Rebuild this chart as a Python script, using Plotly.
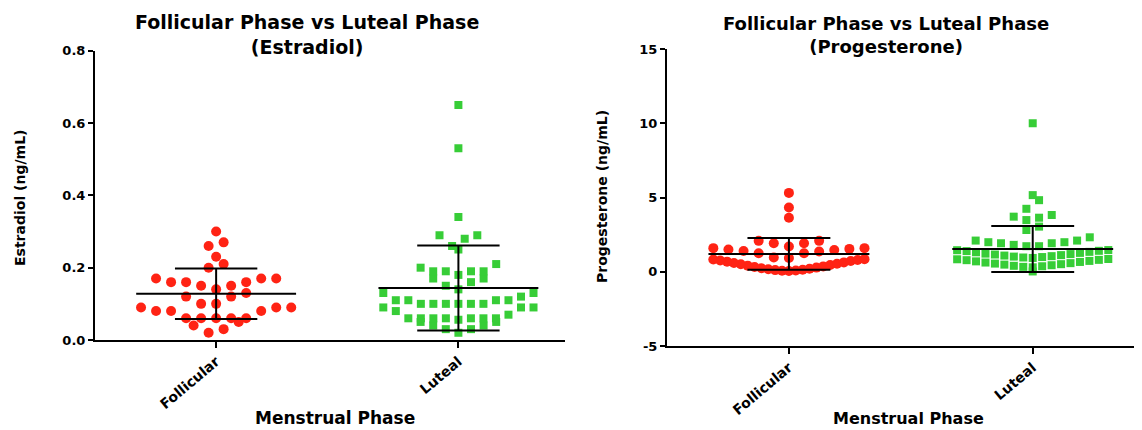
import numpy as np
import plotly.graph_objects as go

categories = ["Follicular", "Luteal"]

estradiol_follicular = [0.30, 0.27, 0.26, 0.23, 0.21, 0.20, 0.17, 0.17, 0.17, 0.16, 0.16, 0.16,
                        0.15, 0.15, 0.14, 0.13, 0.12, 0.12, 0.10, 0.10, 0.09, 0.09, 0.09, 0.08,
                        0.08, 0.08, 0.06, 0.06, 0.06, 0.06, 0.06, 0.05, 0.04, 0.03, 0.02]
estradiol_luteal = [0.65, 0.53, 0.34, 0.29, 0.29, 0.28, 0.26, 0.25, 0.21, 0.20, 0.19, 0.19, 0.19,
                    0.19, 0.18, 0.17, 0.17, 0.16, 0.15, 0.14, 0.13, 0.13, 0.12, 0.11, 0.11, 0.11,
                    0.11, 0.10, 0.10, 0.10, 0.10, 0.10, 0.10, 0.09, 0.09, 0.09, 0.08, 0.07, 0.06,
                    0.06, 0.06, 0.06, 0.06, 0.06, 0.06, 0.056, 0.05, 0.05, 0.04, 0.04, 0.03, 0.03, 0.02]
progesterone_follicular = [5.31, 4.33, 3.64, 2.08, 2.08, 1.92, 1.92, 1.70, 1.59, 1.59, 1.54, 1.50,
                           1.47, 1.40, 1.36, 1.25, 1.25, 0.96, 0.93,
                           0.85, 0.83, 0.79, 0.76, 0.72, 0.68, 0.63, 0.59, 0.54, 0.50, 0.45, 0.41,
                           0.36, 0.32, 0.28, 0.24, 0.20, 0.17, 0.13, 0.11, 0.08, 0.07, 0.05]
progesterone_luteal = [10.0, 5.16, 4.82, 4.24, 3.82, 3.71, 3.64, 3.48, 3.04, 2.81,
                       2.32, 2.10, 2.10, 1.99, 1.99, 1.92, 1.92, 1.81, 1.72, 1.72,
                       1.46, 1.45, 1.41, 1.39, 1.34, 1.31, 1.27, 1.22, 1.19, 1.16, 1.12, 1.09,
                       1.05, 1.02, 0.99, 0.96, 0.93,
                       0.86, 0.84, 0.80, 0.78, 0.73, 0.70, 0.66, 0.62, 0.58, 0.55, 0.51, 0.48,
                       0.44, 0.40, 0.37, 0.33, 0.30,
                       0.02]

# mean and SD
estradiol_mean = [0.128, 0.1435]
estradiol_sd = [0.070, 0.1175]
progesterone_mean = [1.20, 1.53]
progesterone_sd = [1.07, 1.55]

estradiol_ticks = [0.0, 0.2, 0.4, 0.6, 0.8]
progesterone_ticks = [-5, 0, 5, 10, 15]

RED = "rgb(255,35,20)"
GREEN = "rgb(55,205,55)"
FONT = "DejaVu Sans"

# page body has an 8px margin; the figure is sized to fit the 1142x430 window
OFF = 8
W, H = 1142 - OFF, 430 - OFF


def px(x):
    return (x - OFF) / W


def py(y):
    return 1 - (y - OFF) / H


def swarm(values, center, bin_h, origin, spacing, max_half):
    bins = {}
    for v in values:
        k = int(np.floor((v - origin) / bin_h + 1e-9))
        bins.setdefault(k, []).append(v)
    xs, ys = [], []
    for k in sorted(bins):
        vs = sorted(bins[k])
        n = len(vs)
        sp = spacing if n < 2 else min(spacing, 2 * max_half / (n - 1))
        for i, v in enumerate(vs):
            if n % 2 == 1:
                j = (i + 1) // 2
                off = 0 if i == 0 else (-j if i % 2 == 1 else j)
            else:
                j = i // 2 + 0.5
                off = -j if i % 2 == 0 else j
            xs.append(center + off * sp)
            ys.append(v)
    return xs, ys


def bar_lines(means, sds):
    xs, ys = [], []
    for c, (m, s) in enumerate(zip(means, sds)):
        xs += [c - 0.33, c + 0.33, None, c, c, None, c - 0.17, c + 0.17, None, c - 0.17, c + 0.17, None]
        ys += [m, m, None, m - s, m + s, None, m + s, m + s, None, m - s, m - s, None]
    return xs, ys


fig = go.Figure()

panels = [
    ("x", "y", [estradiol_follicular, estradiol_luteal], estradiol_mean, estradiol_sd, 0.04, 0.135),
    ("x2", "y2", [progesterone_follicular, progesterone_luteal], progesterone_mean, progesterone_sd, 0.82, 0.05),
]

for xa, ya, groups, means, sds, bh, org in panels:
    for c, vals in enumerate(groups):
        if c == 0:
            xs, ys = swarm(vals, c, bh, org, 0.062, 0.31)
            marker = dict(color=RED, size=10, symbol="circle", line=dict(width=0))
        else:
            xs, ys = swarm(vals, c, bh, org, 0.052, 0.31)
            marker = dict(color=GREEN, size=8, symbol="square", line=dict(width=0))
        fig.add_trace(go.Scatter(x=xs, y=ys, mode="markers", marker=marker,
                                 xaxis=xa, yaxis=ya, showlegend=False, hoverinfo="y"))
    lx, ly = bar_lines(means, sds)
    fig.add_trace(go.Scatter(x=lx, y=ly, mode="lines", line=dict(color="black", width=2),
                             xaxis=xa, yaxis=ya, showlegend=False, hoverinfo="skip"))

axis_common = dict(showline=True, linecolor="black", linewidth=2, ticks="outside",
                   tickcolor="black", tickwidth=2, showgrid=False, zeroline=False,
                   automargin=False)

xaxis_common = dict(axis_common, range=[-0.5, 1.44], tickvals=[0, 1], ticktext=categories,
                    ticklen=6, tickangle=-40,
                    tickfont=dict(family=FONT, size=14, color="black", weight="bold"))

fig.update_layout(
    template="none",
    width=W, height=H, autosize=False,
    margin=dict(l=0, r=0, t=0, b=0, pad=0),
    paper_bgcolor="white", plot_bgcolor="white",
    xaxis=dict(xaxis_common, domain=[px(95), px(565)], anchor="y"),
    yaxis=dict(axis_common, domain=[py(340), py(50.7)], range=[0, 0.8], anchor="x",
               tickvals=estradiol_ticks, ticktext=[f"{t:.1f}" for t in estradiol_ticks], ticklen=5,
               tickfont=dict(family=FONT, size=13, color="black", weight="bold")),
    xaxis2=dict(xaxis_common, domain=[px(667), px(1140)], anchor="y2"),
    yaxis2=dict(axis_common, domain=[py(346), py(49)], range=[-5, 15], anchor="x2",
                tickvals=progesterone_ticks, ticktext=[str(t) for t in progesterone_ticks], ticklen=5,
                tickfont=dict(family=FONT, size=13, color="black", weight="bold")),
)

annos = [
    dict(text="Follicular Phase vs Luteal Phase<br>(Estradiol)", x=307, y=35, size=19),
    dict(text="Follicular Phase vs Luteal Phase<br>(Progesterone)", x=886, y=35, size=18),
    dict(text="Menstrual Phase", x=335, y=418, size=17),
    dict(text="Menstrual Phase", x=908, y=418, size=16),
]
for a in annos:
    fig.add_annotation(text=a["text"], x=px(a["x"]), y=py(a["y"]), xref="paper", yref="paper",
                       xanchor="center", yanchor="middle", showarrow=False,
                       font=dict(family=FONT, size=a["size"], color="black", weight="bold"))

for text, x, y in [("Estradiol (ng/mL)", 20, 198), ("Progesterone (ng/mL)", 602, 197)]:
    fig.add_annotation(text=text, x=px(x), y=py(y), xref="paper", yref="paper",
                       xanchor="center", yanchor="middle", showarrow=False, textangle=-90,
                       font=dict(family=FONT, size=14, color="black", weight="bold"))

fig.write_html("out.html")
